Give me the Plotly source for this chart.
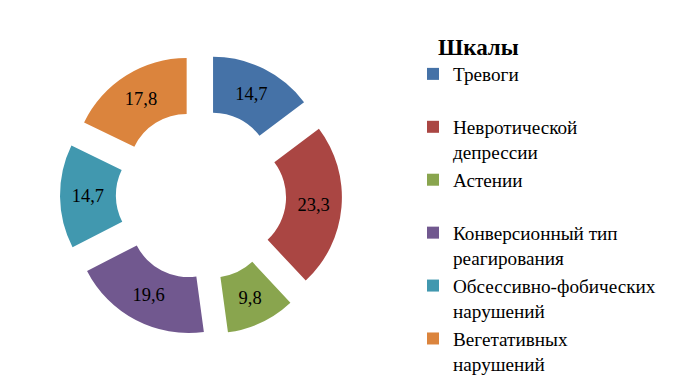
import plotly.graph_objects as go

categories = ["Тревоги", "Невротической<br>депрессии", "Астении",
              "Конверсионный тип<br>реагирования", "Обсессивно-фобических<br>нарушений",
              "Вегетативных<br>нарушений"]
values = [14.7, 23.3, 9.8, 19.6, 14.7, 17.8]
value_labels = ["14,7", "23,3", "9,8", "19,6", "14,7", "17,8"]
colors = ["#4572A7", "#AA4643", "#89A54E", "#71588F", "#4198AF", "#DB843D"]

# pad single-line legend entries so every entry occupies two lines
legend_names = [c if "<br>" in c else c + "<br> " for c in categories]

SERIF = "'Liberation Serif', 'Times New Roman', Times, serif"
W, H = 692, 382
cx, cy, ext = 193, 187, 141

fig = go.Figure(go.Pie(
    labels=legend_names,
    values=values,
    text=value_labels,
    textinfo="text",
    textposition="inside",
    insidetextorientation="horizontal",
    textfont=dict(family=SERIF, size=18.5, color="black"),
    marker=dict(colors=colors, line=dict(width=0)),
    hole=0.51,
    pull=0.237,
    sort=False,
    direction="clockwise",
    rotation=0,
    domain=dict(x=[(cx - ext) / W, (cx + ext) / W],
                y=[1 - (cy + ext) / H, 1 - (cy - ext) / H]),
    hoverinfo="label+value",
))

fig.update_layout(
    width=W, height=H,
    margin=dict(l=0, r=0, t=0, b=0),
    paper_bgcolor="white",
    plot_bgcolor="white",
    font=dict(family=SERIF, color="black"),
    showlegend=True,
    legend=dict(
        x=405 / W, xanchor="left",
        y=1 - 17 / H, yanchor="top",
        valign="top",
        font=dict(family=SERIF, size=19.2, color="black"),
        title=dict(text="\u00a0\u00a0\u00a0\u00a0<b>Шкалы</b>",
                   font=dict(family=SERIF, size=23, color="black")),
        bgcolor="rgba(0,0,0,0)",
        traceorder="normal",
    ),
)

fig.write_html("out.html")
